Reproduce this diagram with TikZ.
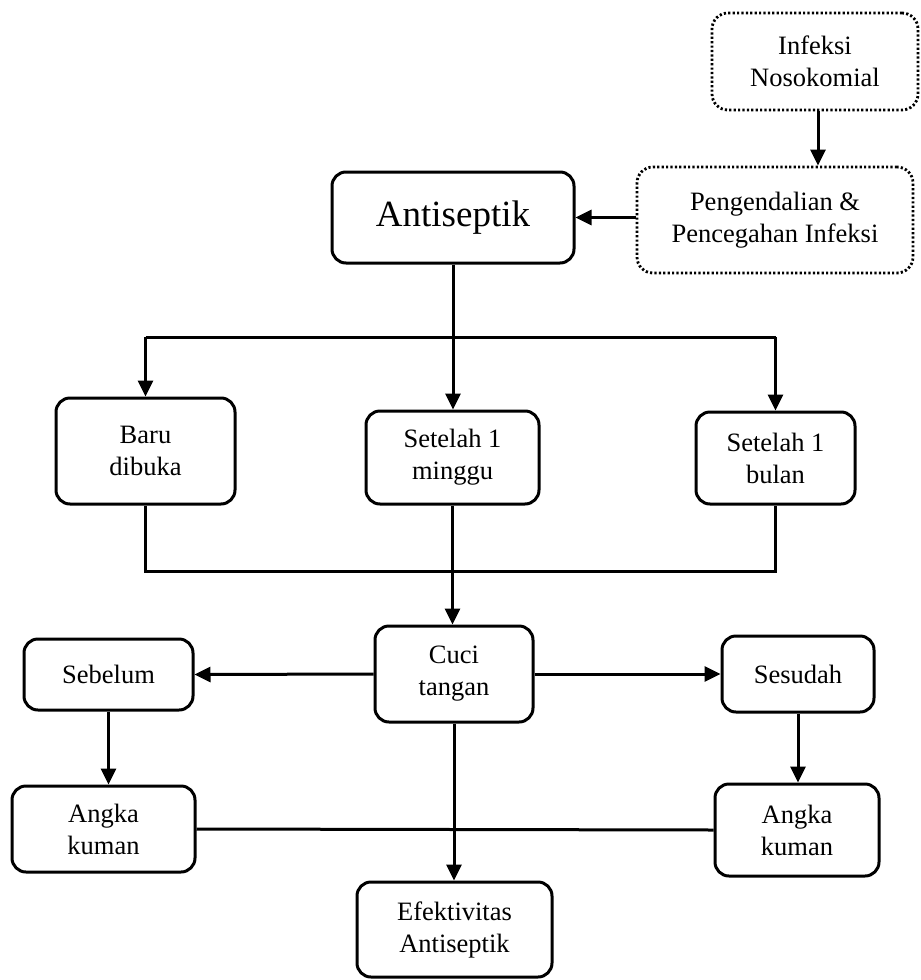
\documentclass[tikz,border=0pt]{standalone}
\usepackage{fontspec}
\setmainfont{Liberation Serif}
\usetikzlibrary{arrows.meta}
\begin{document}
\begin{tikzpicture}[x=1pt,y=-1pt,
  box/.style={draw,line width=3pt,rounded corners=14pt,align=center,inner sep=0pt,
    font=\fontsize{26.5}{32}\selectfont},
  dotbox/.style={box,line width=2.8pt,dash pattern=on 2.2pt off 2.2pt,rounded corners=16pt},
  conn/.style={line width=3pt},
  arr/.style={conn,-{Triangle[length=16pt,width=15pt]}}]
\useasboundingbox (0,0) rectangle (921,980);
% nodes
\node[dotbox,minimum width=206pt,minimum height=97pt] (inf) at (815,61.5) {Infeksi\\Nosokomial};
\node[dotbox,minimum width=276pt,minimum height=106pt] (pen) at (775,220) {Pengendalian \&\\Pencegahan Infeksi};
\node[box,minimum width=242pt,minimum height=91pt,font=\fontsize{37}{44}\selectfont] (anti) at (453,217.5) {Antiseptik};
\node[box,minimum width=179pt,minimum height=106pt] (baru) at (145.5,451) {Baru\\dibuka};
\node[box,minimum width=173pt,minimum height=93pt] (minggu) at (452.5,457.5) {Setelah 1\\minggu};
\node[box,minimum width=159pt,minimum height=92pt] (bulan) at (775.5,458) {Setelah 1\\bulan};
\node[box,minimum width=158pt,minimum height=96pt] (cuci) at (454,674) {Cuci\\tangan};
\node[box,minimum width=169pt,minimum height=71pt] (sebelum) at (108.5,674.5) {Sebelum};
\node[box,minimum width=152pt,minimum height=76pt] (sesudah) at (798,674) {Sesudah};
\node[box,minimum width=183pt,minimum height=86pt] (angL) at (103.5,829) {Angka\\kuman};
\node[box,minimum width=164pt,minimum height=92pt] (angR) at (797,830) {Angka\\kuman};
\node[box,minimum width=195pt,minimum height=95pt] (efek) at (454.5,929.5) {Efektivitas\\Antiseptik};
\coordinate (hl) at (0,337);
\coordinate (bl) at (0,571);
% connectors
\draw[arr] ([xshift=3pt]inf.south) -- ([xshift=3pt]inf.south |- pen.north);
\draw[arr] (pen.west |- anti.east) -- (anti.east);
\draw[conn] (baru.north |- hl) -- (bulan.north |- hl);
\draw[arr] (anti.south) -- (anti.south |- minggu.north);
\draw[arr] (baru.north |- hl) -- (baru.north);
\draw[arr] (bulan.north |- hl) -- (bulan.north);
\draw[conn] (baru.south) -- (baru.south |- bl) -- (bulan.south |- bl) -- (bulan.south);
\draw[arr] (minggu.south) -- (minggu.south |- cuci.north);
\draw[arr] (cuci.west) -- (sebelum.east);
\draw[arr] (cuci.east) -- (sesudah.west);
\draw[arr] (sebelum.south) -- (sebelum.south |- angL.north);
\draw[arr] (sesudah.south) -- (sesudah.south |- angR.north);
\draw[conn] (angL.east) -- (angR.west);
\draw[arr] (cuci.south) -- (cuci.south |- efek.north);
\end{tikzpicture}
\end{document}
